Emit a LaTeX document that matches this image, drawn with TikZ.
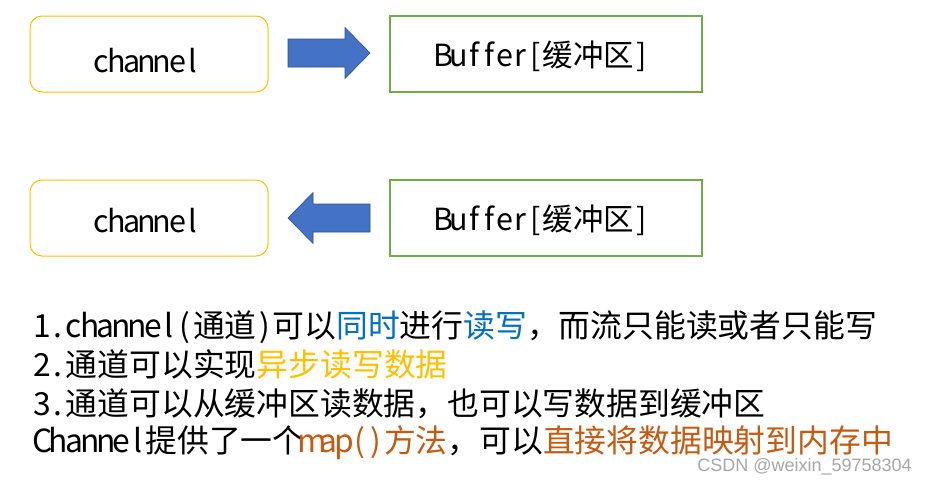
\documentclass[tikz,border=0pt]{standalone}
\usepackage{fontspec}
\setmainfont{Noto Sans CJK SC}
\newfontfamily\wmfont{Liberation Sans}
\definecolor{boxyellow}{HTML}{FFC000}
\definecolor{boxgreen}{HTML}{70AD47}
\definecolor{arrowblue}{HTML}{4472C4}
\definecolor{arrowedge}{HTML}{2F528F}
\definecolor{txtblue}{HTML}{0070C0}
\definecolor{txtyellow}{HTML}{FFC000}
\definecolor{txtorange}{HTML}{C55A11}
% half-width monospaced Latin, as in the reference
\def\monoA#1{\ifx#1\relax\else\makebox[0.5em][c]{#1}\expandafter\monoA\fi}
\newcommand\mono[1]{\monoA#1\relax}
\tikzset{
  chanbox/.style={draw=boxyellow, line width=1pt, rounded corners=12pt, minimum width=238pt, minimum height=76pt, inner sep=0pt},
  bufbox/.style={draw=boxgreen, line width=1.2pt, minimum width=312pt, minimum height=76pt, inner sep=0pt},
  boxtext/.style={anchor=base, inner sep=0pt, font=\fontsize{30.5}{31}\selectfont},
  blockarrow/.style={fill=arrowblue, draw=arrowedge, line width=0.6pt},
  line/.style={anchor=base west, inner sep=0pt, font=\fontsize{31.8}{32}\selectfont}
}
\begin{document}
\begin{tikzpicture}[x=1pt,y=-1pt]
\useasboundingbox (0,0) rectangle (928,482);
\fill[white] (0,0) rectangle (928,482);

% top row
\node[chanbox] (c1) at (149,54) {};
\node[bufbox] (b1) at (546,54) {};
\node[boxtext] (c1t) at (147,72) {\mono{channel}};
\node[boxtext] (b1t) at (543,66) {\mono{Buffer[}缓冲区\mono{]}};

% right arrow
\coordinate (ra) at (288,53);
\draw[blockarrow] (ra) ++(0,-14) -- ++(57,0) -- ++(0,-11.5) -- ++(25,25.5) -- ++(-25,25.5) -- ++(0,-11.5) -- ++(-57,0) -- cycle;

% bottom row
\node[chanbox] (c2) at (149,218) {};
\node[bufbox] (b2) at (546,218) {};
\node[boxtext] (c2t) at (147,232) {\mono{channel}};
\node[boxtext] (b2t) at (543,230) {\mono{Buffer[}缓冲区\mono{]}};

% left arrow
\coordinate (la) at (288,218);
\draw[blockarrow] (la) -- ++(25,-25.5) -- ++(0,11.5) -- ++(57,0) -- ++(0,28) -- ++(-57,0) -- ++(0,11.5) -- cycle;

% text lines
\node[line] (t1) at (34,337) {\mono{1.channel(}通道\mono{)}可以{\color{txtblue}同时}进行{\color{txtblue}读写}，而流只能读或者只能写};
\node[line] (t2) at (34,376) {\mono{2.}通道可以实现{\color{txtyellow}异步读写数据}};
\node[line] (t3) at (34,415) {\mono{3.}通道可以从缓冲区读数据，也可以写数据到缓冲区};
\node[line] (t4) at (34,452) {\mono{Channel}提供了一个{\color{txtorange}\mono{map()}方法}，可以{\color{txtorange}直接将数据映射到内存中}};

% watermark
\node[anchor=base east, inner sep=0pt, font=\wmfont\fontsize{18}{18}\selectfont, text=black!35] (wm) at (912,471) {CSDN @weixin\_59758304};
\end{tikzpicture}
\end{document}
